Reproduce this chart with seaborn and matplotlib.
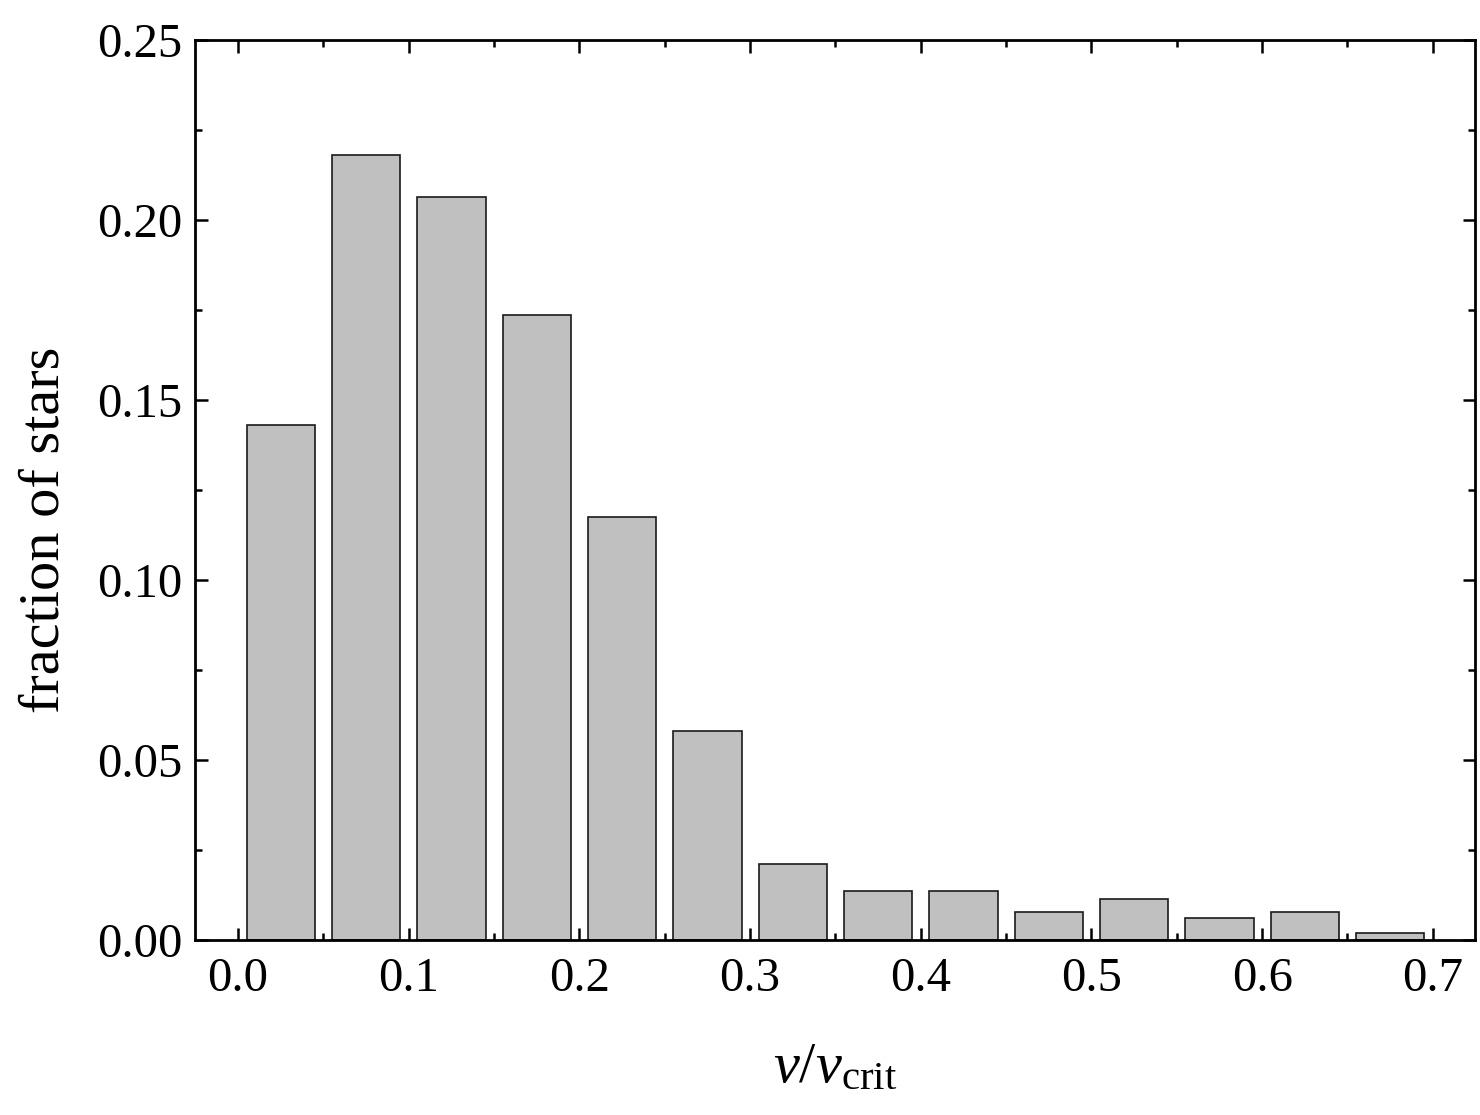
import matplotlib
matplotlib.use("Agg")
import matplotlib.pyplot as plt
import seaborn as sns
import numpy as np
from matplotlib.ticker import MultipleLocator, FormatStrFormatter

# Data
bin_centers = [0.025, 0.075, 0.125, 0.175, 0.225, 0.275, 0.325,
               0.375, 0.425, 0.475, 0.525, 0.575, 0.625, 0.675]
fraction = [0.143, 0.218, 0.2065, 0.1735, 0.1175, 0.058, 0.021,
            0.0135, 0.0135, 0.0078, 0.0115, 0.006, 0.0078, 0.002]
x_ticks = [0.0, 0.1, 0.2, 0.3, 0.4, 0.5, 0.6, 0.7]
y_ticks = [0.00, 0.05, 0.10, 0.15, 0.20, 0.25]

sns.set_theme(style="ticks")
plt.rcParams['font.family'] = ['Liberation Serif', 'DejaVu Serif']
plt.rcParams['mathtext.fontset'] = 'custom'
plt.rcParams['mathtext.rm'] = 'Liberation Serif'
plt.rcParams['mathtext.it'] = 'Liberation Serif:italic'
for k in ['text.color', 'axes.labelcolor', 'xtick.color', 'ytick.color',
          'axes.edgecolor']:
    plt.rcParams[k] = 'black'

fig = plt.figure(figsize=(14.8, 11.15), dpi=100)
ax = fig.add_axes([0.1318, 0.157, 0.8648, 0.8071])

sns.barplot(x=bin_centers, y=fraction, native_scale=True, width=0.8,
            color="#c0c0c0", saturation=1, edgecolor="#1a1a1a",
            linewidth=1.2, errorbar=None, ax=ax)

ax.set_xlim(-0.0252, 0.7247)
ax.set_ylim(0, 0.25)
ax.set_xticks(x_ticks)
ax.set_yticks(y_ticks)
ax.xaxis.set_major_formatter(FormatStrFormatter('%.1f'))
ax.yaxis.set_major_formatter(FormatStrFormatter('%.2f'))
ax.xaxis.set_minor_locator(MultipleLocator(0.05))
ax.yaxis.set_minor_locator(MultipleLocator(0.025))

ax.tick_params(which='both', direction='in', top=True, right=True,
               color='black', width=1.8)
ax.tick_params(which='major', length=9, labelsize=35, pad=9,
               labelcolor='black')
ax.tick_params(which='minor', length=5)
ax.tick_params(axis='x', which='major', pad=12)

for s in ax.spines.values():
    s.set_visible(True)
    s.set_linewidth(2.0)
    s.set_color('black')

ax.set_xlabel(r'$v/v_{\mathrm{crit}}$', fontsize=42, labelpad=30,
              color='black')
ax.set_ylabel('fraction of stars', fontsize=42, labelpad=19,
              color='black')
ax.yaxis.label.set_y(0.4556)

fig.savefig("out.png", dpi=100)
